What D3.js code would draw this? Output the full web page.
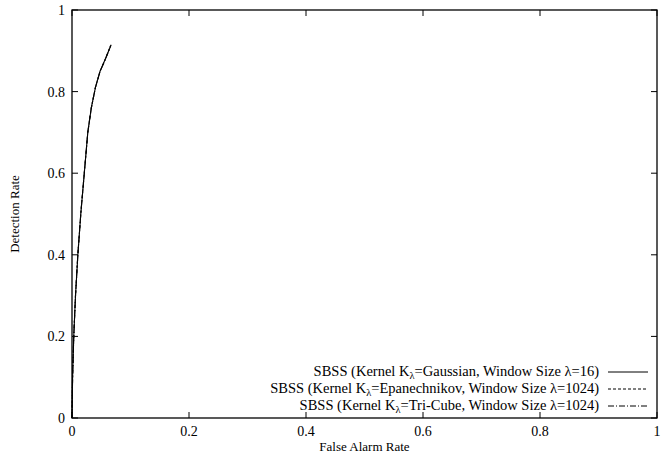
<!DOCTYPE html>
<html>
<head>
<meta charset="utf-8">
<script src="https://cdn.jsdelivr.net/npm/d3@7"></script>
<style>
  body { margin: 0; background: #fff; }
  text { font-family: "Liberation Serif", "DejaVu Serif", "Times New Roman", serif; }
</style>
</head>
<body>
<script>
// tick values
const xTicks = [0, 0.2, 0.4, 0.6, 0.8, 1];
const yTicks = [0, 0.2, 0.4, 0.6, 0.8, 1];

// ROC points [false alarm rate, detection rate]
const gaussian = [[0,0],[0.001,0.1],[0.003,0.2],[0.006,0.3],[0.010,0.4],[0.015,0.5],[0.021,0.6],[0.027,0.7],[0.033,0.76],[0.040,0.81],[0.048,0.85],[0.057,0.88],[0.067,0.915]];
const epanechnikov = [[0,0],[0.001,0.1],[0.003,0.2],[0.006,0.3],[0.010,0.4],[0.015,0.5],[0.021,0.6],[0.027,0.7],[0.033,0.76],[0.040,0.81],[0.048,0.85],[0.057,0.88],[0.066,0.913]];
const tricube = [[0,0],[0.001,0.1],[0.003,0.2],[0.006,0.3],[0.010,0.4],[0.015,0.5],[0.021,0.6],[0.027,0.7],[0.033,0.76],[0.040,0.81],[0.048,0.85],[0.057,0.879],[0.066,0.912]];

const series = [
  {kernel: "Gaussian", size: "16", data: gaussian, dash: null},
  {kernel: "Epanechnikov", size: "1024", data: epanechnikov, dash: "3,2"},
  {kernel: "Tri-Cube", size: "1024", data: tricube, dash: "6,2,1,2"}
];

const W = 669, H = 459;
const plot = {left: 72, right: 657, top: 10, bottom: 418};

const svg = d3.select("body").append("svg")
  .attr("width", W).attr("height", H);

const x = d3.scaleLinear().domain([0, 1]).range([plot.left, plot.right]);
const y = d3.scaleLinear().domain([0, 1]).range([plot.bottom, plot.top]);

// ticks (gnuplot style, inward, mirrored)
const tl = 6;
const ticks = svg.append("g").attr("stroke", "#000").attr("stroke-width", 1);
xTicks.forEach(t => {
  ticks.append("line").attr("x1", x(t)).attr("x2", x(t)).attr("y1", plot.bottom).attr("y2", plot.bottom - tl);
  ticks.append("line").attr("x1", x(t)).attr("x2", x(t)).attr("y1", plot.top).attr("y2", plot.top + tl);
});
yTicks.forEach(t => {
  ticks.append("line").attr("x1", plot.left).attr("x2", plot.left + tl).attr("y1", y(t)).attr("y2", y(t));
  ticks.append("line").attr("x1", plot.right).attr("x2", plot.right - tl).attr("y1", y(t)).attr("y2", y(t));
});

// tick labels
svg.append("g").selectAll("text").data(xTicks).enter().append("text")
  .attr("x", d => x(d)).attr("y", plot.bottom + 18)
  .attr("text-anchor", "middle").attr("font-size", 14)
  .text(d => d3.format("")(d));
svg.append("g").selectAll("text").data(yTicks).enter().append("text")
  .attr("x", plot.left - 7).attr("y", d => y(d) + 5)
  .attr("text-anchor", "end").attr("font-size", 14)
  .text(d => d3.format("")(d));

// axis titles
svg.append("text").attr("x", (plot.left + plot.right) / 2).attr("y", 451)
  .attr("text-anchor", "middle").attr("font-size", 13).text("False Alarm Rate");
svg.append("text").attr("transform", "translate(19," + ((plot.top + plot.bottom) / 2) + ") rotate(-90)")
  .attr("text-anchor", "middle").attr("font-size", 13).text("Detection Rate");

// curves
const line = d3.line().x(d => x(d[0])).y(d => y(d[1]));
series.forEach(s => {
  svg.append("path").datum(s.data)
    .attr("d", line)
    .attr("fill", "none").attr("stroke", "#000").attr("stroke-width", 1.1)
    .attr("stroke-dasharray", s.dash);
});

// legend
const legend = svg.append("g");
series.forEach((s, i) => {
  const ly = 376 + i * 17;
  const t = legend.append("text").attr("x", 599).attr("y", ly)
    .attr("text-anchor", "end").attr("font-size", 14.5);
  t.append("tspan").text("SBSS (Kernel K");
  t.append("tspan").attr("font-size", 10.5).attr("dy", 3).text("\u03bb");
  t.append("tspan").attr("dy", -3).text("=" + s.kernel + ", Window Size \u03bb=" + s.size + ")");
  legend.append("line").attr("x1", 608).attr("x2", 648).attr("y1", ly - 4).attr("y2", ly - 4)
    .attr("stroke", "#000").attr("stroke-width", 1)
    .attr("stroke-dasharray", s.dash);
});

// border
svg.append("rect").attr("x", plot.left).attr("y", plot.top)
  .attr("width", plot.right - plot.left).attr("height", plot.bottom - plot.top)
  .attr("fill", "none").attr("stroke", "#000").attr("stroke-width", 1.3);
</script>
</body>
</html>
